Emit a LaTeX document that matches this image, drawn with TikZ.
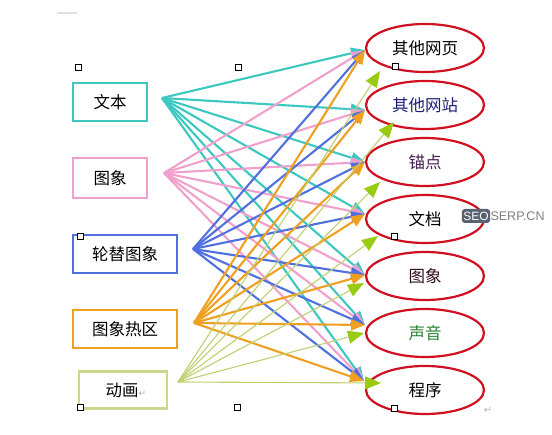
\documentclass[tikz,border=0pt]{standalone}
\usepackage{fontspec}
\newfontfamily\cjk{Noto Sans CJK SC}
\newfontfamily\dejavu{DejaVu Sans}
\setmainfont{Liberation Sans}
\usetikzlibrary{arrows.meta,shapes.geometric}
\definecolor{cteal}{HTML}{3CC8C0}
\definecolor{cpink}{HTML}{F0A0CC}
\definecolor{cblue}{HTML}{5070E0}
\definecolor{corange}{HTML}{F0A020}
\definecolor{cgline}{HTML}{C0D070}
\definecolor{cghead}{HTML}{99CC11}
\definecolor{cred}{HTML}{D01020}
\definecolor{cbox}{HTML}{C8D890}
\definecolor{cwm}{HTML}{5A6272}
\tikzset{
  srcbox/.style={draw, line width=2.5pt, minimum height=38pt, inner sep=0pt,
    font=\cjk\fontsize{16.5}{18}\selectfont},
  target/.style={draw=cred, line width=2.2pt, ellipse, minimum width=118pt,
    minimum height=48pt, inner sep=0pt, font=\cjk\fontsize{16.5}{18}\selectfont},
  fan/.style={line width=2.1pt, -{Triangle[length=14pt,width=11pt]}},
  gfan/.style={draw=cgline, line width=1.1pt,
    -{Triangle[length=16pt,width=13pt,fill=cghead,color=cghead]}},
  handle/.style={draw=black, fill=white, line width=1pt, minimum size=6pt,
    inner sep=0pt, rectangle},
}
\begin{document}
\begin{tikzpicture}[x=1pt,y=-1pt]
\useasboundingbox[fill=white] (0,0) rectangle (552,435);
\draw[gray!25, line width=2pt] (57,13) -- (77,13);

% source boxes
\node[srcbox, draw=cteal, minimum width=74pt] (b1) at (110,102) {文本};
\node[srcbox, draw=cpink, minimum width=74pt, minimum height=40pt] (b2) at (110,178) {图象};
\node[srcbox, draw=cblue, minimum width=104pt] (b3) at (125,254) {轮替图象};
\node[srcbox, draw=corange, minimum width=104pt] (b4) at (125,329) {图象热区};
\node[srcbox, draw=cbox, minimum width=88pt, minimum height=37pt] (b5) at (123,390) {\hspace*{6pt}动画{\dejavu\fontsize{9}{10}\selectfont\color{gray!60}↵}};

% target ellipses
\node[target] (e1) at (425,48) {其他网页};
\node[target, text={rgb,255:red,30;green,30;blue,120}] (e2) at (425,105) {其他网站};
\node[target, text={rgb,255:red,70;green,30;blue,80}] (e3) at (425,162) {锚点};
\node[target] (e4) at (425,219) {文档};
\node[target, text={rgb,255:red,50;green,15;blue,30}] (e5) at (425,276) {图象};
\node[target, text={rgb,255:red,40;green,130;blue,50}] (e6) at (425,333) {声音};
\node[target] (e7) at (425,390) {程序};

% fan points
\coordinate (s1) at (162,98);
\coordinate (s2) at (164,173);
\coordinate (s3) at (193,249);
\coordinate (s4) at (194,323);
\coordinate (s5) at (178,382);
\coordinate (t1) at (365,50);
\coordinate (t2) at (365,110);
\coordinate (t3) at (365,162);
\coordinate (t4) at (365,214);
\coordinate (t5) at (365,275);
\coordinate (t6) at (365,325);
\coordinate (t7) at (364,381);
\coordinate (g1) at (380,71);
\coordinate (g2) at (394,122);
\coordinate (g3) at (380,182);
\coordinate (g4) at (378,236);
\coordinate (g5) at (364,283);
\coordinate (g6) at (364,333);
\coordinate (g7) at (381,383);

\foreach \t in {1,...,7} \draw[fan, cteal] (s1) -- (t\t);
\foreach \t in {1,...,7} \draw[fan, cpink] (s2) -- (t\t);
\foreach \t in {1,...,7} \draw[fan, cblue] (s3) -- (t\t);
\foreach \t in {1,...,7} \draw[fan, corange] (s4) -- (t\t);
\foreach \t in {1,...,7} \draw[gfan] (s5) -- (g\t);

% selection handles
\node[handle] (h1) at (78,68) {};
\node[handle] (h2) at (238,68) {};
\node[handle] (h3) at (395,67) {};
\node[handle] (h4) at (80,237) {};
\node[handle] (h5) at (394,237) {};
\node[handle] (h6) at (80,408) {};
\node[handle] (h7) at (237,408) {};
\node[handle] (h8) at (394,409) {};
\node[text=gray!60, font=\dejavu\fontsize{10}{11}\selectfont] (ret) at (488,410) {↵};

% watermark
\node[fill=cwm, rounded corners=3pt, text=white, inner sep=1.5pt,
  font=\fontsize{12}{13}\selectfont, minimum height=14pt] (wm1) at (476,216) {SEO};
\node[anchor=west, text=gray, inner sep=0pt, font=\fontsize{12.5}{13}\selectfont] (wm2) at (wm1.east) {SERP.CN};
\end{tikzpicture}
\end{document}
